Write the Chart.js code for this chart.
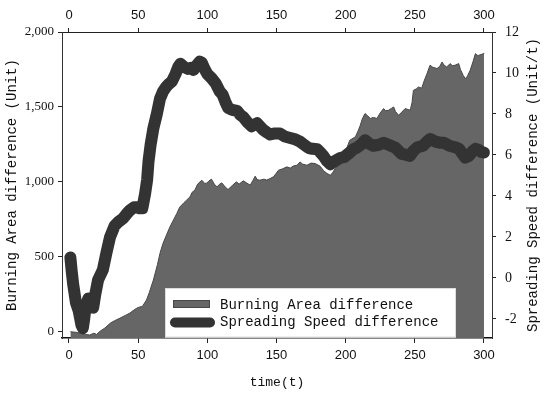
<!DOCTYPE html>
<html>
<head>
<meta charset="utf-8">
<script src="https://cdn.jsdelivr.net/npm/chart.js@4.4.1/dist/chart.umd.min.js"></script>
<style>
  body { margin: 0; background: #fff; }
</style>
</head>
<body>
<canvas id="fireChart" width="550" height="397"></canvas>
<script>
// values (time step -> difference)
var areaTime = [1, 3, 6, 9, 12, 15, 18, 20, 22, 26, 30, 34, 37, 41, 44, 47, 49, 51, 53, 56, 58, 61, 64, 66, 68, 71, 73, 75.5, 78, 80, 83, 85,
  87.5, 89, 91, 93, 96, 98, 99.6, 101, 103, 105, 107, 109, 110.5, 113, 115, 118, 121, 123, 126, 128, 131, 133, 134.6, 136, 138, 141, 143,
  145.4, 148, 151.5, 154, 157.5, 160, 162, 164.8, 167, 169, 172, 175, 178, 181.6, 184, 186.5, 188.9, 190.5, 192.5, 196, 199, 201, 203, 207,
  209, 210.6, 212, 214, 216, 217.8, 220, 222.6, 225, 227.4, 229, 231, 233, 234.7, 236, 238.3, 240, 243, 246.7, 248, 249, 251, 252.7, 255,
  257, 258.8, 261, 263, 266, 268, 269.7, 271, 273, 275.7, 277, 279, 281.7, 283, 285, 286.5, 288, 290, 292, 293.8, 295, 296, 298, 299.8, 300];
var areaDiff = [0, -2, -5, -12, -18, -22, -10, -18, 0, 25, 58, 78, 91, 110, 124, 145, 157, 165, 168, 211, 260, 345, 450, 531, 590, 657, 700, 745, 790, 831, 860, 878,
  900, 930, 945, 985, 1011, 990, 991, 1005, 1018, 985, 967, 985, 993, 965, 949, 975, 1000, 985, 1007, 995, 978, 1010, 1038, 1015, 1011, 1018, 1012,
  1022, 1035, 1078, 1085, 1100, 1092, 1105, 1111, 1133, 1118, 1111, 1125, 1122, 1104, 1075, 1056, 1044, 1060, 1089, 1122, 1160, 1230, 1278, 1300,
  1340, 1378, 1420, 1456, 1440, 1423, 1430, 1423, 1460, 1489, 1475, 1478, 1490, 1500, 1470, 1444, 1460, 1489, 1478, 1530, 1611, 1620, 1633, 1625,
  1680, 1722, 1778, 1765, 1756, 1770, 1800, 1780, 1767, 1789, 1775, 1778, 1789, 1750, 1710, 1689, 1705, 1744, 1800, 1856, 1845, 1844, 1850, 1856, 1860];

var speedTime = [1, 2, 3, 5, 7, 9, 10, 11, 12, 14, 16, 17.5, 19, 21, 24.5, 27, 29.7, 33, 36, 39, 42, 44, 47, 49, 51, 53, 55, 56.5, 57.5, 59,
  61, 63.5, 65.8, 68, 70, 72, 74.5, 77, 79, 80.5, 83, 86, 88, 90, 92, 94.5, 96, 98, 100, 103, 106, 109, 111, 113, 115, 118, 121.5, 124, 126,
  129, 132, 136, 138, 140, 143, 145.5, 149, 152.5, 156, 160, 164, 167, 170, 173, 176, 179.5, 182, 184, 186.5, 189, 192.5, 196, 199, 203, 206,
  208, 211, 214, 217, 220, 224, 227.5, 231, 236, 240.5, 244, 246.5, 249, 252, 256, 258, 261, 265, 268, 271, 275, 279, 282, 284, 286.5, 289,
  292, 294, 296, 298, 300];
var speedDiff = [1.0, 0.3, -0.3, -1.2, -1.6, -2.3, -2.45, -2.0, -1.4, -1.0, -1.3, -1.45, -0.8, -0.1, 0.4, 1.2, 2.0, 2.55, 2.75, 2.9, 3.15, 3.3, 3.45, 3.45, 3.4, 3.4, 4.1, 4.8, 5.7, 6.5,
  7.3, 8.0, 8.75, 9.1, 9.3, 9.45, 9.6, 9.95, 10.3, 10.45, 10.3, 10.2, 10.25, 10.15, 10.35, 10.55, 10.5, 10.2, 9.95, 9.75, 9.5, 9.1, 8.95, 8.6, 8.3, 8.2, 8.15, 7.95, 7.85,
  7.6, 7.4, 7.55, 7.4, 7.25, 7.1, 7.0, 7.05, 7.05, 6.9, 6.83, 6.75, 6.65, 6.5, 6.35, 6.3, 6.28, 6.1, 5.95, 5.7, 5.55, 5.72, 5.85, 5.9, 6.12, 6.3,
  6.35, 6.5, 6.72, 6.55, 6.45, 6.5, 6.6, 6.5, 6.35, 6.05, 6.0, 5.95, 6.2, 6.38, 6.45, 6.6, 6.78, 6.65, 6.6, 6.6, 6.45, 6.38, 6.3, 6.1, 5.87, 5.95,
  6.2, 6.3, 6.25, 6.15, 6.12];

var timeTicks = [0, 50, 100, 150, 200, 250, 300];
var areaTicks = [0, 500, 1000, 1500, 2000];
var speedTicks = [-2, 0, 2, 4, 6, 8, 10, 12];

var rightTitle = 'Spreading Speed difference (Unit/t)';

function toPoints(xs, ys) {
    return xs.map((x, i) => ({ x: x, y: ys[i] }));
}

var fixedTicks = values => scale => {
    scale.ticks = values.map(v => ({ value: v }));
};

var axisGrid = len => ({ drawOnChartArea: false, tickLength: len, tickColor: '#222', tickWidth: 1 });

// right title (bottom-to-top like the left one) + legend inside the plot
var overlay = {
    id: 'overlay',
    afterDraw(chart) {
        var ctx = chart.ctx;
        var area = chart.chartArea;
        ctx.save();
        ctx.translate(533, (area.top + area.bottom) / 2);
        ctx.rotate(-Math.PI / 2);
        ctx.font = '14px "Liberation Mono"';
        ctx.fillStyle = '#111';
        ctx.textAlign = 'center';
        ctx.textBaseline = 'middle';
        ctx.fillText(rightTitle, 0, 0);
        ctx.restore();

        var sets = chart.data.datasets;
        var speed = sets[0], burn = sets[1];
        ctx.save();
        ctx.fillStyle = '#fff';
        ctx.fillRect(165, 288, 291, area.bottom - 288 - 0.5);
        ctx.strokeStyle = '#ddd';
        ctx.lineWidth = 1;
        ctx.strokeRect(165.5, 288.5, 290, area.bottom - 289.5);

        ctx.fillStyle = burn.backgroundColor;
        ctx.strokeStyle = burn.borderColor;
        ctx.fillRect(173, 300, 37, 8);
        ctx.strokeRect(173.5, 300.5, 36, 7);

        ctx.strokeStyle = speed.borderColor;
        ctx.lineWidth = 10;
        ctx.lineCap = 'round';
        ctx.beginPath();
        ctx.moveTo(175, 322.5);
        ctx.lineTo(210, 322.5);
        ctx.stroke();

        ctx.font = '14px "Liberation Mono"';
        ctx.fillStyle = '#111';
        ctx.textBaseline = 'middle';
        ctx.fillText(burn.label, 220, 305);
        ctx.fillText(speed.label, 220, 322);
        ctx.restore();
    }
};

new Chart('fireChart', {
    type: 'line',
    data: {
        datasets: [{
            label: 'Spreading Speed difference',
            data: toPoints(speedTime, speedDiff),
            xAxisID: 'x',
            yAxisID: 'y1',
            borderColor: '#333333',
            borderWidth: 12,
            borderCapStyle: 'round',
            borderJoinStyle: 'round',
            pointRadius: 0,
            fill: false,
            tension: 0,
            order: 0
        }, {
            label: 'Burning Area difference',
            data: toPoints(areaTime, areaDiff),
            xAxisID: 'x',
            yAxisID: 'y',
            borderColor: '#474747',
            borderWidth: 1,
            backgroundColor: '#666666',
            fill: 'start',
            pointRadius: 0,
            tension: 0,
            order: 1
        }]
    },
    options: {
        responsive: false,
        animation: false,
        layout: { padding: 0 },
        plugins: {
            legend: { display: false },
            tooltip: { enabled: false }
        },
        scales: {
            x: {
                type: 'linear',
                position: 'bottom',
                min: -5.06,
                max: 305.8,
                afterBuildTicks: fixedTicks(timeTicks),
                afterFit: s => { s.height = 59; },
                grid: axisGrid(5),
                border: { color: '#111', width: 1.5 },
                ticks: { color: '#111', font: { family: 'Liberation Sans', size: 13 }, padding: 5, maxRotation: 0 },
                title: {
                    display: true,
                    text: 'time(t)',
                    color: '#111',
                    font: { family: 'Liberation Mono', size: 13 },
                    padding: { top: 0, bottom: 7 }
                }
            },
            x2: {
                type: 'linear',
                position: 'top',
                min: -5.06,
                max: 305.8,
                afterBuildTicks: fixedTicks(timeTicks),
                afterFit: s => { s.height = 32; },
                grid: axisGrid(4),
                border: { color: '#222', width: 1 },
                ticks: { color: '#111', font: { family: 'Liberation Sans', size: 13 }, padding: 5, maxRotation: 0 }
            },
            y: {
                type: 'linear',
                position: 'left',
                min: -42,
                max: 2000,
                afterBuildTicks: fixedTicks(areaTicks),
                afterFit: s => { s.width = 62; },
                grid: axisGrid(4),
                border: { color: '#333', width: 1 },
                ticks: {
                    color: '#111',
                    font: { family: 'Liberation Serif', size: 13 },
                    padding: 4,
                    callback: v => v.toLocaleString('en-US')
                },
                title: {
                    display: true,
                    text: 'Burning Area difference (Unit)',
                    color: '#111',
                    font: { family: 'Liberation Mono', size: 14 },
                    padding: { top: 4, bottom: 0 }
                }
            },
            y1: {
                type: 'linear',
                position: 'right',
                min: -2.93,
                max: 12,
                afterBuildTicks: fixedTicks(speedTicks),
                afterFit: s => { s.width = 58; },
                grid: axisGrid(4),
                border: { color: '#333', width: 1 },
                ticks: { color: '#111', font: { family: 'Liberation Serif', size: 14 }, padding: 9 }
            }
        }
    },
    plugins: [overlay]
});
</script>
</body>
</html>
